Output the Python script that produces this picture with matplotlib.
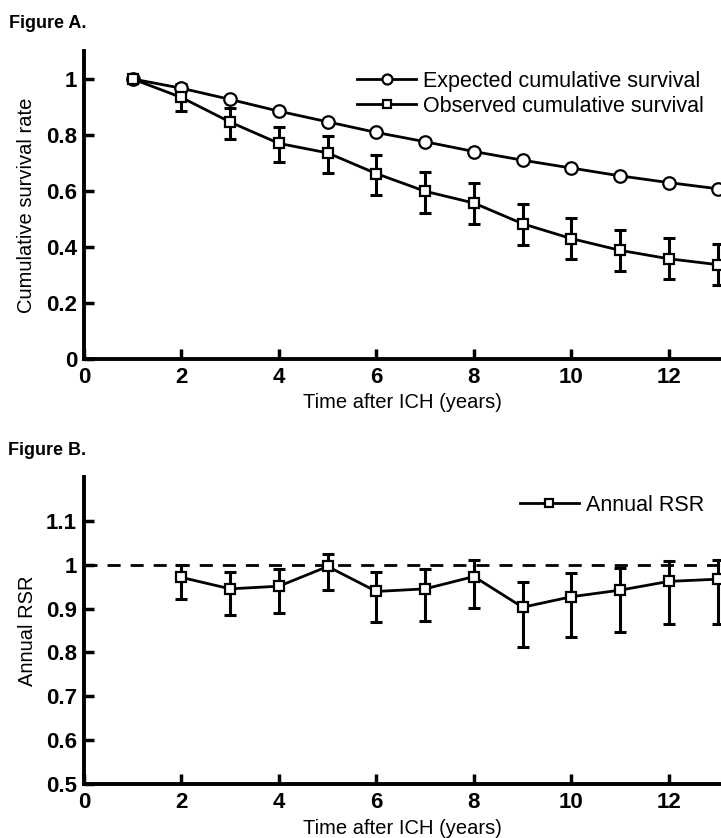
import matplotlib
matplotlib.use("Agg")
import matplotlib.pyplot as plt
import numpy as np

plt.rcParams['font.family'] = ['Liberation Sans', 'DejaVu Sans']

# ---- Data: Figure A ----
years_a = [1, 2, 3, 4, 5, 6, 7, 8, 9, 10, 11, 12, 13]
expected = [1.0, 0.967, 0.927, 0.885, 0.847, 0.809, 0.776, 0.741, 0.710, 0.682, 0.654, 0.630, 0.608]
observed = [1.0, 0.934, 0.846, 0.770, 0.736, 0.662, 0.599, 0.557, 0.483, 0.430, 0.388, 0.358, 0.337]
observed_lo = [1.0, 0.886, 0.785, 0.704, 0.666, 0.587, 0.521, 0.483, 0.408, 0.356, 0.316, 0.286, 0.265]
observed_hi = [1.0, 0.982, 0.895, 0.829, 0.798, 0.728, 0.668, 0.629, 0.555, 0.503, 0.462, 0.432, 0.409]

# ---- Data: Figure B ----
years_b = [2, 3, 4, 5, 6, 7, 8, 9, 10, 11, 12, 13]
rsr = [0.971, 0.945, 0.951, 0.996, 0.939, 0.945, 0.973, 0.903, 0.927, 0.942, 0.962, 0.967]
rsr_lo = [0.922, 0.886, 0.891, 0.942, 0.869, 0.871, 0.901, 0.813, 0.836, 0.846, 0.865, 0.865]
rsr_hi = [1.000, 0.983, 0.990, 1.024, 0.984, 0.990, 1.011, 0.960, 0.980, 0.992, 1.008, 1.011]

xticks = [0, 2, 4, 6, 8, 10, 12]
yticks_a = [0, 0.2, 0.4, 0.6, 0.8, 1.0]
yticklabels_a = ['0', '0.2', '0.4', '0.6', '0.8', '1']
yticks_b = [0.5, 0.6, 0.7, 0.8, 0.9, 1.0, 1.1]
yticklabels_b = ['0.5', '0.6', '0.7', '0.8', '0.9', '1', '1.1']

W, H = 721, 838
fig = plt.figure(figsize=(W / 100, H / 100), dpi=100)

left = 84 / W
ax_a = fig.add_axes([left, (H - 359) / H, 1 - left, (359 - 51) / H])
ax_b = fig.add_axes([left, (H - 784) / H, 1 - left, (784 - 477) / H])

LW = 2.0

def style_axes(ax):
    for s in ['top', 'right']:
        ax.spines[s].set_visible(False)
    for s in ['left', 'bottom']:
        ax.spines[s].set_linewidth(2.8)
    ax.tick_params(direction='in', length=7, width=2.5, labelsize=16, pad=6)
    ax.tick_params(axis='y', pad=5)
    for lab in ax.get_xticklabels() + ax.get_yticklabels():
        lab.set_fontweight('bold')
    ax.set_xlim(0, 13.07)
    ax.set_xticks(xticks)
    ax.set_xticklabels([str(t) for t in xticks], fontweight='bold')

# ---- Figure A ----
ea = np.array(observed)
yerr_a = [ea - np.array(observed_lo), np.array(observed_hi) - ea]
ax_a.errorbar(years_a, observed, yerr=yerr_a, fmt='none', ecolor='black',
              elinewidth=2.2, capsize=4.5, capthick=2.2, zorder=2, clip_on=False)
ax_a.plot(years_a, expected, '-o', color='black', lw=LW, ms=9, mfc='white',
          mec='black', mew=1.6, zorder=3, clip_on=False, label='Expected cumulative survival')
ax_a.plot(years_a, observed, '-s', color='black', lw=LW, ms=7, mfc='white',
          mec='black', mew=1.6, zorder=3, clip_on=False, label='Observed cumulative survival')
ax_a.set_ylim(0, 1.1)
ax_a.set_yticks(yticks_a)
ax_a.set_yticklabels(yticklabels_a, fontweight='bold')
style_axes(ax_a)
ax_a.set_ylabel('Cumulative survival rate', fontsize=14.5, va='center')
ax_a.yaxis.set_label_coords((27 - 84) / (W - 84), 0.5)
ax_a.set_xlabel('Time after ICH (years)', fontsize=14.5, va='center')
ax_a.xaxis.set_label_coords(0.5, (359 - 402) / (359 - 51))
ax_a.legend(loc='upper right', bbox_to_anchor=(704 / W, 1 - 70.5 / H),
            bbox_transform=fig.transFigure, frameon=False, fontsize=15.5,
            borderpad=0, borderaxespad=0, handlelength=2.74, handletextpad=0.33,
            labelspacing=0.2, numpoints=1, markerscale=0.8)

# ---- Figure B ----
eb = np.array(rsr)
yerr_b = [eb - np.array(rsr_lo), np.array(rsr_hi) - eb]
ax_b.axhline(1.0, color='black', lw=LW, ls=(0, (4.7, 3.6)), zorder=1)
ax_b.errorbar(years_b, rsr, yerr=yerr_b, fmt='none', ecolor='black',
              elinewidth=2.2, capsize=4.5, capthick=2.2, zorder=2, clip_on=False)
ax_b.plot(years_b, rsr, '-s', color='black', lw=LW, ms=7, mfc='white',
          mec='black', mew=1.6, zorder=3, clip_on=False, label='Annual RSR')
ax_b.set_ylim(0.5, 1.2)
ax_b.set_yticks(yticks_b)
ax_b.set_yticklabels(yticklabels_b, fontweight='bold')
style_axes(ax_b)
ax_b.set_ylabel('Annual RSR', fontsize=14.5, va='center')
ax_b.yaxis.set_label_coords((27.5 - 84) / (W - 84), 0.5)
ax_b.set_xlabel('Time after ICH (years)', fontsize=14.5, va='center')
ax_b.xaxis.set_label_coords(0.5, (784 - 828) / (784 - 477))
ax_b.legend(loc='upper right', bbox_to_anchor=(704 / W, 1 - 495 / H),
            bbox_transform=fig.transFigure, frameon=False, fontsize=15.5,
            borderpad=0, borderaxespad=0, handlelength=2.74, handletextpad=0.33,
            numpoints=1, markerscale=0.8)

fig.text(9 / W, 1 - 24 / H, 'Figure A.', fontsize=13, fontweight='bold', va='center', ha='left')
fig.text(8 / W, 1 - 450 / H, 'Figure B.', fontsize=13, fontweight='bold', va='center', ha='left')

fig.savefig('out.png', dpi=100)
